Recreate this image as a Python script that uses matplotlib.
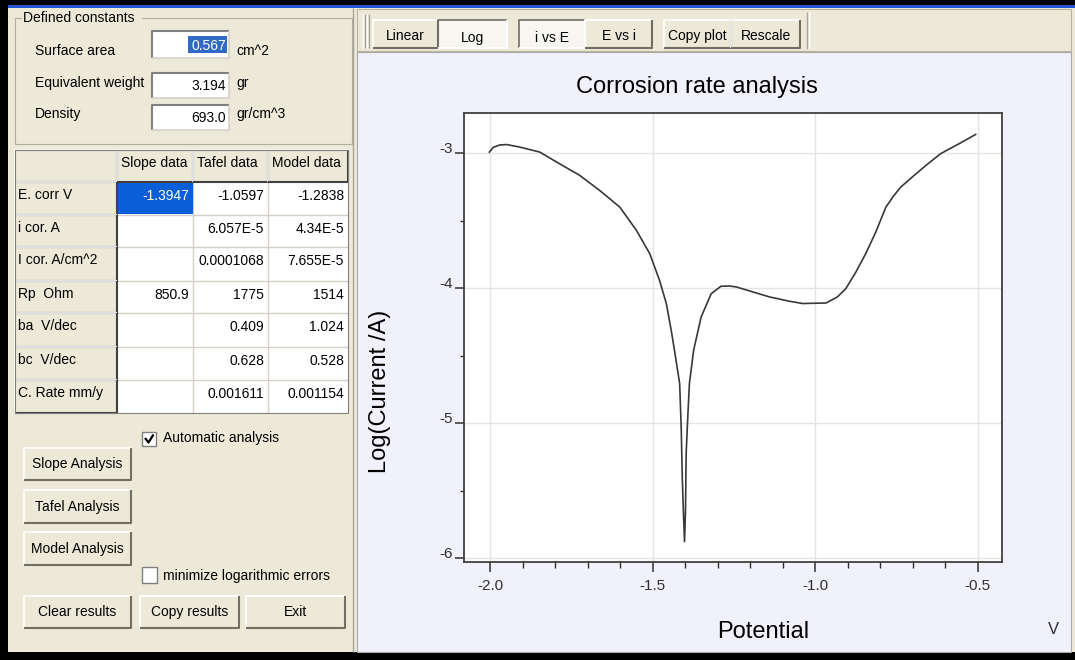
import numpy as np
import matplotlib
matplotlib.use('Agg')
import matplotlib.pyplot as plt
from matplotlib.patches import Rectangle
from matplotlib.ticker import MultipleLocator
from matplotlib import font_manager

plt.rcParams['font.family'] = ['Liberation Sans', 'DejaVu Sans']

# polarisation curve
potential = [-2.002, -1.990, -1.970, -1.949, -1.908, -1.847, -1.795, -1.724,
             -1.663, -1.601, -1.550, -1.509, -1.479, -1.458, -1.443, -1.433,
             -1.417, -1.412, -1.409, -1.405, -1.402, -1.399, -1.397, -1.392,
             -1.387, -1.374, -1.351, -1.320, -1.290, -1.264, -1.243, -1.192,
             -1.141, -1.080, -1.039, -0.967, -0.932, -0.906, -0.875, -0.845,
             -0.814, -0.783, -0.758, -0.737, -0.702, -0.660, -0.615, -0.558,
             -0.507]  # [V]
logCurrent = [-2.990, -2.955, -2.937, -2.934, -2.953, -2.990, -3.064, -3.163,
              -3.274, -3.398, -3.570, -3.743, -3.940, -4.113, -4.311, -4.459,
              -4.706, -5.052, -5.398, -5.694, -5.879, -5.644, -5.224, -4.953,
              -4.706, -4.459, -4.213, -4.040, -3.985, -3.983, -3.990, -4.027,
              -4.064, -4.096, -4.113, -4.109, -4.064, -4.002, -3.879, -3.743,
              -3.583, -3.398, -3.311, -3.249, -3.175, -3.089, -3.002, -2.928,
              -2.859]  # log10(I/A)

xTicks = [-2.0, -1.5, -1.0, -0.5]
xTickLabels = ['-2.0', '-1.5', '-1.0', '-0.5']
yTicks = [-6, -5, -4, -3]
yTickLabels = ['-6', '-5', '-4', '-3']

# defined constants panel
constNames = ['Surface area', 'Equivalent weight', 'Density']
constValues = ['0.567', '3.194', '693.0']
constUnits = ['cm^2', 'gr', 'gr/cm^3']

# result table
colNames = ['Slope data', 'Tafel data', 'Model data']
rowNames = ['E. corr V', 'i cor. A', 'I cor. A/cm^2', 'Rp  Ohm', 'ba  V/dec',
            'bc  V/dec', 'C. Rate mm/y']
slopeData = ['-1.3947', '', '', '850.9', '', '', '']
tafelData = ['-1.0597', '6.057E-5', '0.0001068', '1775', '0.409', '0.628',
             '0.001611']
modelData = ['-1.2838', '4.34E-5', '7.655E-5', '1514', '1.024', '0.528',
             '0.001154']

toolButtons = ['Linear', 'Log', 'i vs E', 'E vs i', 'Copy plot', 'Rescale']
toolPressed = [False, True, True, False, False, False]

# GUI font (narrow if we have it)
names = {f.name for f in font_manager.fontManager.ttflist}
if 'Liberation Sans Narrow' in names:
    guiFont, guiSize = 'Liberation Sans Narrow', 11.5
else:
    guiFont, guiSize = 'Liberation Sans', 10.0

BEIGE = '#ECE9D8'
LAVENDER = '#F1F1FC'
W, H = 1075, 660

fig = plt.figure(figsize=(W/100, H/100), dpi=100)
fig.patch.set_facecolor(BEIGE)

# background axes in pixel coordinates for the window widgets
bg = fig.add_axes([0, 0, 1, 1])
bg.set_xlim(0, W)
bg.set_ylim(H, 0)
bg.axis('off')


def box(x0, y0, x1, y1, fc, ec='none', lw=1.0, z=1):
    bg.add_patch(Rectangle((x0, y0), x1-x0, y1-y0, facecolor=fc,
                           edgecolor=ec, lw=lw, zorder=z))


def line(xs, ys, c, lw=1.0, z=2):
    bg.plot(xs, ys, color=c, lw=lw, zorder=z, solid_capstyle='butt')


def bevel(x0, y0, x1, y1, raised=True, fc=BEIGE, dark='#716F64'):
    box(x0, y0, x1, y1, fc)
    light, shade = ('white', dark) if raised else (dark, 'white')
    line([x0, x0, x1], [y1, y0, y0], light, 1.2)
    line([x0, x1, x1], [y1, y1, y0], shade, 1.5)


def txt(x, y, s, ha='left', c='black', size=None, z=5):
    bg.text(x, y, s, ha=ha, va='center', color=c, family=guiFont,
            fontsize=size or guiSize, zorder=z)


# screen border and title bar edge
box(0, 0, W, 5, 'black')
box(0, 5, W, 8, '#2157D6')
box(0, 0, 8, H, 'black')
box(0, 652, W, H, 'black')

# right panel: toolbar and plot area
box(357, 52, 1071, 652, LAVENDER, ec='#A8A8A8', lw=0.8)
box(357, 9, 1071, 51, BEIGE, ec='#B8B4A0', lw=0.8)
line([353, 353], [8, 652], '#A8A49A', 1.0)
line([363, 363], [14, 48], 'white', 1.0)
line([364.5, 364.5], [14, 48], '#A8A49A', 1.0)
line([367, 367], [14, 48], 'white', 1.0)
line([368.5, 368.5], [14, 48], '#A8A49A', 1.0)
line([807, 807], [12, 49], '#A8A49A', 1.0)
line([808.5, 808.5], [12, 49], 'white', 1.0)

toolEdges = [(373, 438), (438, 507), (519, 585), (585, 652), (664, 731),
             (731, 800)]
for (x0, x1), name, down in zip(toolEdges, toolButtons, toolPressed):
    if down:
        bevel(x0, 20, x1, 48, raised=False, fc='#F7F6F1')
        txt((x0+x1)/2, 38, name, ha='center')
    else:
        bevel(x0, 20, x1, 48)
        txt((x0+x1)/2, 36, name, ha='center')

# group box with the constants
box(15, 18, 352, 144, 'none', ec='#B0AE9E', lw=0.8)
txt(23, 18, 'Defined constants', z=6)
box(22, 12, 142, 24, BEIGE, z=3)
fieldY = [(31, 58), (73, 98), (105, 130)]
labelY = [51, 83, 114]
for (y0, y1), ly, name, val, unit in zip(fieldY, labelY, constNames,
                                         constValues, constUnits):
    box(152, y0, 229, y1, 'white')
    line([152, 152, 229], [y1, y0, y0], '#808080', 1.5)
    line([152, 229, 229], [y1, y1, y0], '#D4D0C8', 1.2)
    txt(35, ly, name)
    vy = (y0+y1)/2 + 1
    if name == 'Surface area':
        box(188, y0+5, 227, y1-5, '#316AC5', z=3)
        txt(226, vy, val, ha='right', c='white')
    else:
        txt(226, vy, val, ha='right')
    txt(236, ly, unit)

# result table
colEdges = [15, 117, 193, 268, 348]
rowEdges = [150, 182, 215, 247, 281, 313, 347, 380, 413]
box(117, 182, 348, 413, 'white')
for x in colEdges[2:-1]:
    line([x, x], [182, 413], '#D4D0C8', 1.0)
for y in rowEdges[2:-1]:
    line([117, 348], [y, y], '#D4D0C8', 1.0)
bevel(15, 150, 117, 182, dark='#404040')
for i, name in enumerate(colNames):
    bevel(colEdges[i+1], 150, colEdges[i+2], 182, dark='#404040')
    txt(colEdges[i+1]+4, 163, name)
for j, name in enumerate(rowNames):
    bevel(15, rowEdges[j+1], 117, rowEdges[j+2], dark='#404040')
    txt(18, rowEdges[j+1]+13, name)
box(117.5, 182.5, 192.5, 213.5, '#0A5ED8', z=3)
for i, column in enumerate([slopeData, tafelData, modelData]):
    for j, val in enumerate(column):
        c = 'white' if (i == 0 and j == 0) else 'black'
        txt(colEdges[i+2]-4, rowEdges[j+1]+14, val, ha='right', c=c)
box(15, 150, 348, 413, 'none', ec='#7F7F7F', lw=0.8, z=4)

# check boxes
box(142, 432, 156, 446, 'white', ec='#808080', lw=1.0)
line([145, 148.5, 153.5], [438, 442.5, 434.5], 'black', 1.6, z=4)
txt(163, 438, 'Automatic analysis')
box(142, 567, 157, 583, 'white', ec='#808080', lw=1.0)
txt(163, 576, 'minimize logarithmic errors')

# buttons
buttons = [('Slope Analysis', 24, 448, 131, 480),
           ('Tafel Analysis', 24, 490, 131, 523),
           ('Model Analysis', 24, 532, 131, 565),
           ('Clear results', 24, 596, 131, 628),
           ('Copy results', 140, 596, 239, 628),
           ('Exit', 246, 596, 345, 628)]
for name, x0, y0, x1, y1 in buttons:
    bevel(x0, y0, x1, y1)
    txt((x0+x1)/2, (y0+y1)/2, name, ha='center')

# plot
ax = fig.add_axes([464/W, (H-562)/H, 538/W, 449/H])
ax.set_facecolor('white')
ax.plot(potential, logCurrent, color='#383838', lw=1.2)
ax.set_xlim(-2.08, -0.426)
ax.set_ylim(-6.03, -2.70)
ax.set_xticks(xTicks)
ax.set_xticklabels(xTickLabels)
ax.set_yticks(yTicks)
ax.set_yticklabels(yTickLabels)
ax.xaxis.set_minor_locator(MultipleLocator(0.1))
ax.yaxis.set_minor_locator(MultipleLocator(0.5))
ax.grid(True, which='major', color='#E4E4E4', lw=1.0)
ax.set_axisbelow(True)
for s in ax.spines.values():
    s.set_color('#404040')
    s.set_linewidth(1.3)
ax.tick_params(axis='x', which='major', length=7, width=1.1, pad=5,
               labelsize=11, colors='#303030')
ax.tick_params(axis='x', which='minor', length=4, width=1.0,
               colors='#303030')
ax.tick_params(axis='y', which='major', length=6.5, width=1.1, pad=1.5,
               labelsize=11, colors='#303030')
ax.tick_params(axis='y', which='minor', length=3, width=1.0,
               colors='#303030')
for lab in ax.get_yticklabels():
    lab.set_verticalalignment('baseline')

fig.text(697/W, 1-87/H, 'Corrosion rate analysis', ha='center',
         va='center', fontsize=17)
fig.text(380/W, 1-391/H, 'Log(Current /A)', ha='center', va='center',
         rotation=90, fontsize=17)
fig.text(763/W, 1-632/H, 'Potential', ha='center', va='center',
         fontsize=17)
fig.text(1053/W, 1-630/H, 'V', ha='center', va='center', fontsize=12,
         color='#303030')

fig.savefig('out.png', dpi=100, facecolor=fig.get_facecolor())
